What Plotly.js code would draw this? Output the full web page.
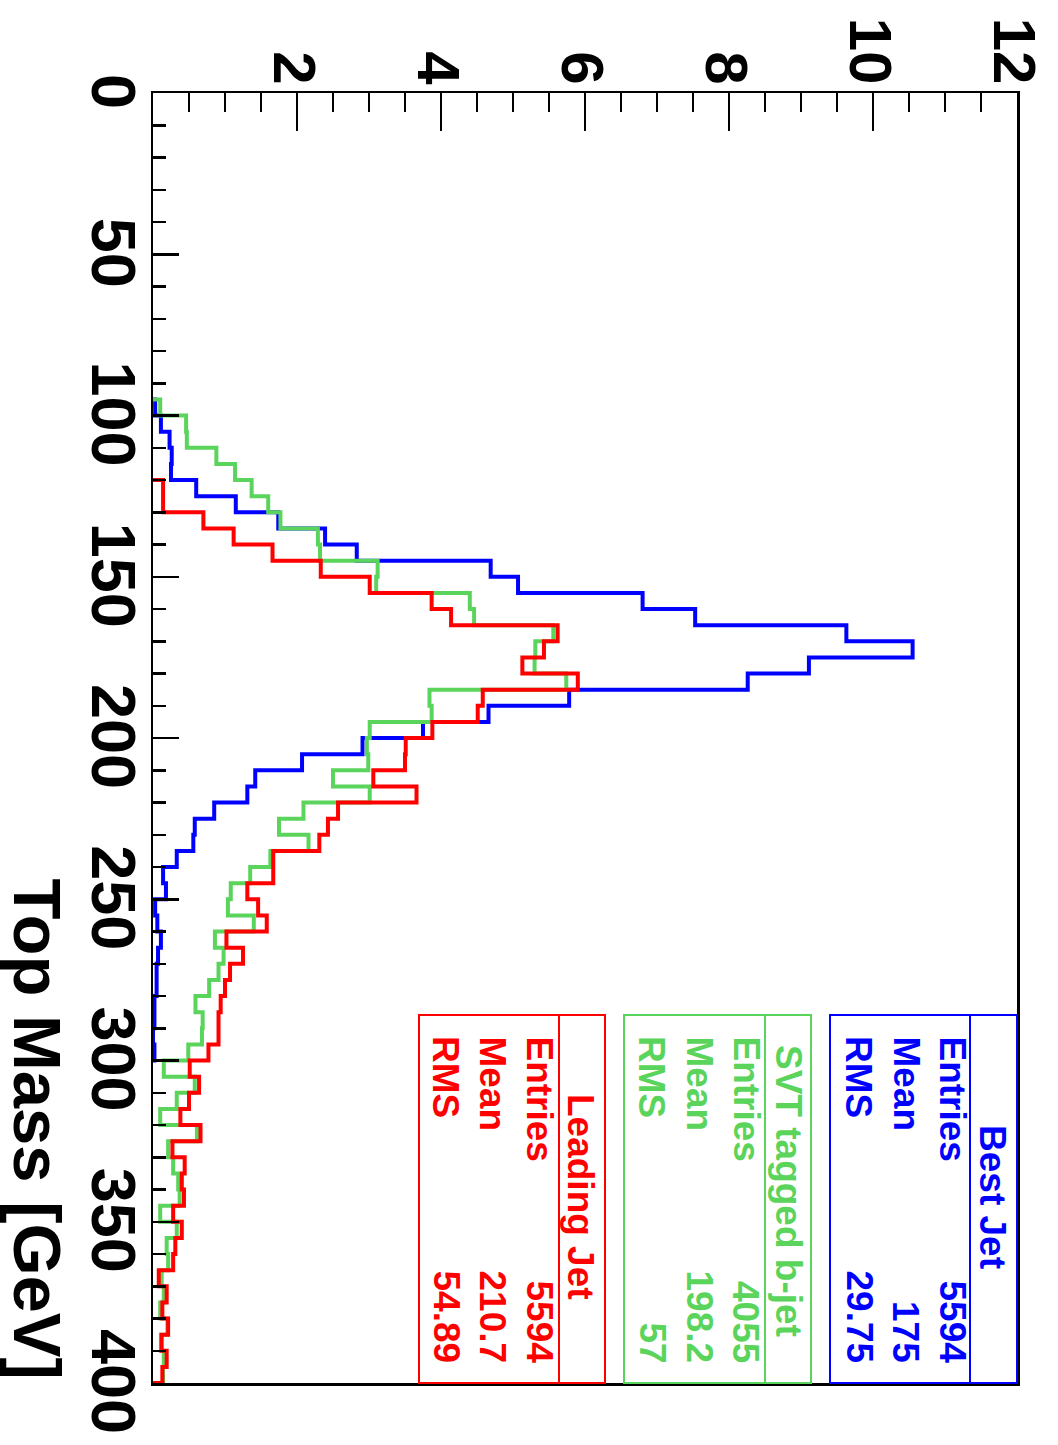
<!DOCTYPE html>
<html>
<head>
<meta charset="utf-8">
<script src="https://cdn.plot.ly/plotly-3.0.1.min.js"></script>
<style>
  html, body { margin: 0; padding: 0; background: #ffffff; }
  #chart { width: 1058px; height: 1445px; }
</style>
</head>
<body>
<div id="chart"></div>
<script>
// ---- Data ----
// Low edges of the 5 GeV mass bins (GeV)
const massLow = [95,100,105,110,115,120,125,130,135,140,145,150,155,160,165,170,175,180,185,190,
                 195,200,205,210,215,220,225,230,235,240,245,250,255,260,265,270,275,280,285,290,
                 295,300,305,310,315,320,325,330,335,340,345,350,355,360,365,370,375,380,385,390,395];
const binWidth = 5;

const bestJet = [0.03,0.11,0.23,0.26,0.25,0.60,1.15,1.74,2.39,2.83,4.69,5.07,6.80,7.53,9.63,10.55,9.11,8.26,5.78,4.66,
                 3.75,2.91,2.07,1.42,1.31,0.85,0.58,0.56,0.33,0.14,0.18,0.03,0.06,0.11,0.07,0.05,0.05,0.02,0.02,0,
                 0.02,0,0,0,0,0,0,0,0,0,0,0,0,0,0,0,0,0,0,0,0];

const svtBJet = [0.10,0.46,0.47,0.88,1.14,1.37,1.60,1.77,2.29,2.32,3.12,3.10,4.40,4.46,5.56,5.31,5.30,5.74,3.84,3.87,
                 3.01,2.97,2.99,2.50,3.01,2.09,1.75,2.16,1.63,1.35,1.08,1.04,1.40,0.86,0.98,0.91,0.78,0.59,0.69,0.68,
                 0.49,0.15,0.58,0.33,0.10,0.61,0.21,0.28,0.35,0.37,0.10,0.33,0.19,0.21,0.12,0.15,0.10,0.20,0.11,0.15,0.14];

const leadingJet = [0,0,0,0,0,0.14,0.14,0.70,1.12,1.66,2.33,3.01,3.87,4.14,5.62,5.43,5.13,5.90,4.58,4.51,
                    3.88,3.51,3.50,3.06,3.66,2.57,2.43,2.31,1.67,1.67,1.31,1.46,1.58,1.02,1.25,1.07,1.00,0.94,0.91,0.91,
                    0.77,0.51,0.64,0.50,0.38,0.66,0.27,0.44,0.40,0.43,0.28,0.40,0.31,0.28,0.08,0.19,0.13,0.21,0.12,0.19,0.13];

const massTicks = [0,50,100,150,200,250,300,350,400];
const countTicks = [2,4,6,8,10,12];

const seriesNames = ["Best Jet", "SVT tagged b-jet", "Leading Jet"];
const statLabels = ["Entries", "Mean", "RMS"];
const statValues = [["5594","175","29.75"], ["4055","198.2","57"], ["5594","210.7","54.89"]];

// ---- Styling ----
const colors = ["#0000ff", "#5ad45a", "#ff0000"];
const FONT = "Liberation Sans, Arial, Helvetica, sans-serif";

const W = 1058, H = 1445;
const M = {l: 153, r: 41, t: 93, b: 62};
const PW = W - M.l - M.r, PH = H - M.t - M.b;
function px(x) { return (x - M.l) / PW; }
function py(y) { return 1 - (y - M.t) / PH; }

function stepTrace(counts, color, name) {
  let first = counts.findIndex(v => v > 0);
  let last = counts.length - 1;
  while (last > 0 && counts[last] <= 0) last--;
  const xs = [0], ys = [massLow[first]];
  for (let i = first; i <= last; i++) { xs.push(counts[i]); ys.push(massLow[i]); }
  xs.push(0); ys.push(massLow[last] + binWidth);
  return {
    type: "scatter", mode: "lines", name: name, x: xs, y: ys,
    line: {shape: "vh", color: color, width: 4},
    hoverinfo: "skip"
  };
}

const traces = [
  stepTrace(bestJet, colors[0], seriesNames[0]),
  stepTrace(svtBJet, colors[1], seriesNames[1]),
  stepTrace(leadingJet, colors[2], seriesNames[2])
];

// ---- Stats boxes (rotated like the reference) ----
const boxes = [
  {x0: 830, x1: 1017, div: 970, title: 993, titleY: 1197, rows: [952, 906, 859]},
  {x0: 624, x1: 811,  div: 765, title: 789, titleY: 1191, rows: [746, 699, 652]},
  {x0: 419, x1: 605,  div: 559, title: 581, titleY: 1197, rows: [539, 492, 446]}
];
const boxTop = 1015, boxBottom = 1383;

const shapes = [];
const annotations = [];
boxes.forEach((b, k) => {
  shapes.push({type: "rect", xref: "paper", yref: "paper",
    x0: px(b.x0), x1: px(b.x1), y0: py(boxBottom), y1: py(boxTop),
    line: {color: colors[k], width: 2}, fillcolor: "#ffffff", layer: "above"});
  shapes.push({type: "line", xref: "paper", yref: "paper",
    x0: px(b.div), x1: px(b.div), y0: py(boxBottom), y1: py(boxTop),
    line: {color: colors[k], width: 2}, layer: "above"});
  annotations.push({xref: "paper", yref: "paper", x: px(b.title), y: py(b.titleY),
    xanchor: "center", yanchor: "middle", text: seriesNames[k], textangle: 90, showarrow: false,
    borderpad: 0, font: {family: FONT, size: 37, weight: "bold", color: colors[k]}});
  statLabels.forEach((lab, r) => {
    annotations.push({xref: "paper", yref: "paper", x: px(b.rows[r]), y: py(1035),
      xanchor: "center", yanchor: "top", text: lab, textangle: 90, showarrow: false,
      borderpad: 0, font: {family: FONT, size: 37, weight: "bold", color: colors[k]}});
    annotations.push({xref: "paper", yref: "paper", x: px(b.rows[r]), y: py(1364),
      xanchor: "center", yanchor: "bottom", text: statValues[k][r], textangle: 90, showarrow: false,
      borderpad: 0, font: {family: FONT, size: 37, weight: "bold", color: colors[k]}});
  });
});

// Axis title, rotated clockwise as in the reference
annotations.push({xref: "paper", yref: "paper", x: px(37), y: py(1380),
  xanchor: "center", yanchor: "bottom", text: "Top Mass [GeV]", textangle: 90, showarrow: false,
  borderpad: 0, font: {family: FONT, size: 67, weight: "bold", color: "#000000"}});

const layout = {
  width: W, height: H,
  margin: {l: M.l, r: M.r, t: M.t, b: M.b, pad: 0},
  paper_bgcolor: "#ffffff", plot_bgcolor: "#ffffff",
  showlegend: false,
  font: {family: FONT, color: "#000000"},
  xaxis: {
    range: [0, 12], side: "top", showgrid: false, zeroline: false,
    showline: true, linecolor: "#000000", linewidth: 2.5, mirror: true,
    tickmode: "array", tickvals: countTicks, ticktext: countTicks.map(String),
    ticks: "inside", ticklen: 38, tickwidth: 2.5, tickcolor: "#000000",
    tickangle: 90, ticklabelstandoff: -15, ticklabelshift: -4,
    tickfont: {family: FONT, size: 60, weight: "bold", color: "#000000"},
    minor: {tickmode: "linear", tick0: 0, dtick: 0.5, ticks: "inside", ticklen: 19, tickwidth: 2.5, tickcolor: "#000000", showgrid: false}
  },
  yaxis: {
    range: [400, 0], showgrid: false, zeroline: false,
    showline: true, linecolor: "#000000", linewidth: 2.5, mirror: true,
    tickmode: "array", tickvals: massTicks, ticktext: massTicks.map(String),
    ticks: "inside", ticklen: 26, tickwidth: 2.5, tickcolor: "#000000",
    tickangle: 90, ticklabelstandoff: -17, ticklabelshift: -8,
    tickfont: {family: FONT, size: 63, weight: "bold", color: "#000000"},
    minor: {tickmode: "linear", tick0: 0, dtick: 10, ticks: "inside", ticklen: 13, tickwidth: 2.5, tickcolor: "#000000", showgrid: false}
  },
  shapes: shapes,
  annotations: annotations
};

Plotly.newPlot("chart", traces, layout, {displayModeBar: false, staticPlot: true});
</script>
</body>
</html>
